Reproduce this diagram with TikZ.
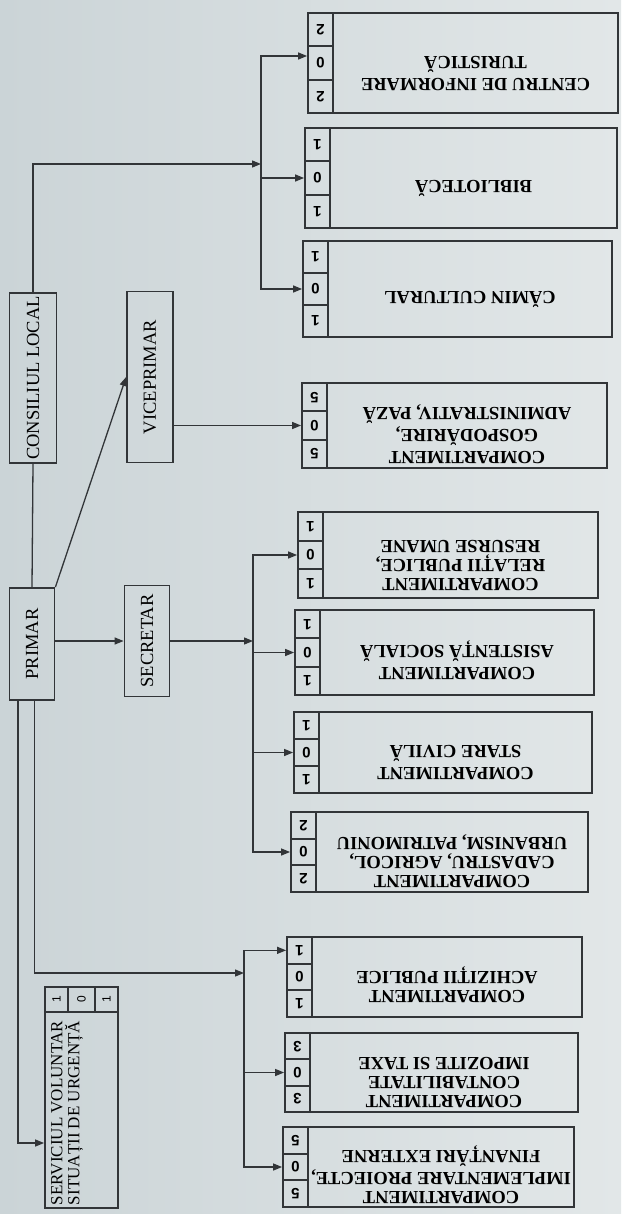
\documentclass[tikz,border=0pt]{standalone}
\usepackage{fontspec}
\setmainfont{Liberation Serif}
\newfontfamily\numfont{Liberation Sans}
\usetikzlibrary{arrows.meta}
\definecolor{ink}{RGB}{50,53,56}
\definecolor{paperL}{RGB}{203,212,215}
\definecolor{paperR}{RGB}{226,231,232}

\begin{document}
\begin{tikzpicture}[x=1pt,y=-1pt,
    box/.style={draw=ink,line width=1.8pt,inner sep=0pt},
    headbox/.style={box,font=\fontsize{18.5}{18.5}\selectfont},
    unitbox/.style={box,font=\fontsize{18.5}{19}\selectfont\bfseries},
    numcell/.style={box,minimum width=25pt,font=\numfont\bfseries\fontsize{15}{15}\selectfont},
    smallcell/.style={box,minimum height=25pt,font=\numfont\fontsize{12}{12}\selectfont},
    link/.style={draw=ink,line width=1.3pt},
    arr/.style={link,-{Triangle[length=9pt,width=7pt]}}]

  \shade[left color=paperL,right color=paperR] (0,0) rectangle (621,1214);
  \useasboundingbox (0,0) rectangle (621,1214);

  \node[headbox,minimum width=47pt,minimum height=170pt] (consiliu) at (33,378) {\rotatebox{90}{CONSILIUL LOCAL}};
  \node[headbox,minimum width=46pt,minimum height=171pt] (viceprimar) at (150,377) {\rotatebox{90}{VICEPRIMAR}};
  \node[headbox,minimum width=45pt,minimum height=112pt] (primar) at (32,644) {\rotatebox{90}{PRIMAR}};
  \node[headbox,minimum width=45pt,minimum height=111pt] (secretar) at (147,641) {\rotatebox{90}{SECRETAR}};

  \node[box,font=\fontsize{17}{17}\selectfont,minimum width=73pt,minimum height=196pt] (servic) at (81.5,1110)
    {\rotatebox{90}{\parbox[c][73pt][t]{196pt}{\vspace{6pt}\hspace*{3pt}SERVICIUL VOLUNTAR\\\hspace*{3pt}SITUAȚII DE URGENȚĂ}}};
  \node[smallcell,minimum width=23pt] (servic-a) at (56.5,999.5) {\rotatebox{90}{1}};
  \node[smallcell,minimum width=27pt] (servic-b) at (81.5,999.5) {\rotatebox{90}{0}};
  \node[smallcell,minimum width=23pt] (servic-c) at (106.5,999.5) {\rotatebox{90}{1}};

  \foreach \n/\xl/\xr/\yt/\yb/\k/\txt in {
      centru/308/618/13/113/2/{CENTRU DE INFORMARE\\TURISTICĂ},
      biblio/305/617/128/228/1/{BIBLIOTECĂ},
      camin/303/612/241/337/1/{CĂMIN CULTURAL},
      gosp/302/607/383/468/5/{COMPARTIMENT\\GOSPODĂRIRE,\\ADMINISTRATIV, PAZĂ},
      relatii/298/598/512/598/1/{COMPARTIMENT\\RELAȚII PUBLICE,\\RESURSE UMANE},
      asist/295/594/610/695/1/{COMPARTIMENT\\ASISTENȚĂ SOCIALĂ},
      stare/294/592/712/793/1/{COMPARTIMENT\\STARE CIVILĂ},
      cadastru/291/588/812/892/2/{COMPARTIMENT\\CADASTRU, AGRICOL,\\URBANISM, PATRIMONIU},
      achiz/287/582/937/1017/1/{COMPARTIMENT\\ACHIZIȚII PUBLICE},
      contab/285/578/1033/1112/3/{COMPARTIMENT\\CONTABILITATE\\IMPOZITE SI TAXE},
      implem/283/574/1127/1207/5/{COMPARTIMENT\\IMPLEMENTARE PROIECTE,\\FINANȚĂRI EXTERNE}}{
    \node[unitbox,minimum width={(\xr-\xl-25)*1pt},minimum height={(\yb-\yt)*1pt}] (\n)
      at ({(\xl+25+\xr)/2},{(\yt+\yb)/2})
      {\rotatebox{180}{\raisebox{0pt}[\height][\dimexpr\depth+16pt]{\begin{tabular}{@{}c@{}}\txt\end{tabular}}}};
    \node[numcell,minimum height={(\yb-\yt)/3*1pt}] (\n-a) at ({\xl+12.5},{\yt+(\yb-\yt)/6}) {\rotatebox{180}{\k}};
    \node[numcell,minimum height={(\yb-\yt)/3*1pt}] (\n-b) at ({\xl+12.5},{(\yt+\yb)/2}) {\rotatebox{180}{0}};
    \node[numcell,minimum height={(\yb-\yt)/3*1pt}] (\n-c) at ({\xl+12.5},{\yb-(\yb-\yt)/6}) {\rotatebox{180}{\k}};
  }

  \coordinate (cbus) at (261,164);
  \coordinate (sbus) at (253,641);
  \coordinate (fbus) at (244,973);

  \draw[link] (primar.north) -- (consiliu.south);
  \draw[arr] (consiliu.north) |- (cbus);
  \draw[arr] (cbus) |- ([yshift=7pt]centru-b.west);
  \draw[arr] (cbus) |- (biblio-b.west);
  \draw[arr] (cbus) |- (camin-b.west);

  \draw[arr] (primar.north east) -- (viceprimar.west);
  \draw[arr] (viceprimar.east |- gosp-b.west) -- (gosp-b.west);

  \draw[arr] (primar.east |- secretar.west) -- (secretar.west);
  \draw[arr] (secretar.east) -- (sbus);
  \draw[arr] (sbus) |- (relatii-b.west);
  \draw[arr] (sbus) |- (asist-b.west);
  \draw[arr] (sbus) |- (stare-b.west);
  \draw[arr] (sbus) |- (cadastru-b.west);

  \draw[arr] ([xshift=2.5pt]primar.south) |- (fbus);
  \draw[arr] (fbus) |- (achiz-a.west);
  \draw[arr] (fbus) |- (contab-b.west);
  \draw[arr] (fbus) |- (implem-b.west);
  \draw[arr] ([xshift=-14pt]primar.south) |- ([yshift=-33pt]servic.west);
\end{tikzpicture}
\end{document}
